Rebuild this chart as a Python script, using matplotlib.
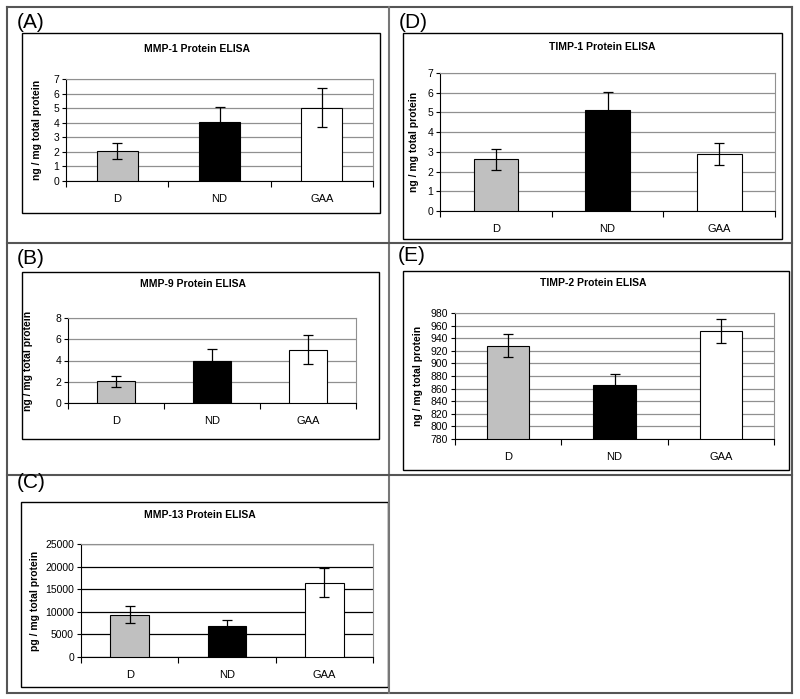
import numpy as np
import matplotlib
matplotlib.use("Agg")
import matplotlib.pyplot as plt
from matplotlib.patches import Rectangle
from matplotlib.lines import Line2D

plt.rcParams['font.family'] = ['Liberation Sans', 'DejaVu Sans']

W, H = 800, 699

groups = ["D", "ND", "GAA"]
bar_colors = ["#c0c0c0", "black", "white"]

mmp1_vals = [2.05, 4.03, 5.03]
mmp1_err = [0.57, 1.05, 1.32]
mmp9_vals = [2.03, 4.0, 5.03]
mmp9_err = [0.5, 1.1, 1.38]
mmp13_vals = [9400, 6800, 16400]
mmp13_err = [1900, 1450, 3200]
timp1_vals = [2.62, 5.1, 2.88]
timp1_err = [0.52, 0.95, 0.57]
timp2_vals = [928, 866, 951]
timp2_err = [18, 17, 19]


def fig_rect(x0, y0, x1, y1):
    return [x0 / W, 1 - y1 / H, (x1 - x0) / W, (y1 - y0) / H]


fig = plt.figure(figsize=(8, 6.99), dpi=100)

# table grid round the panels
def fline(x0, y0, x1, y1, c="#555555", lw=1.5):
    fig.add_artist(Line2D([x0 / W, x1 / W], [1 - y0 / H, 1 - y1 / H],
                          color=c, lw=lw, transform=fig.transFigure))

fline(7, 7, 792, 7)
fline(7, 693, 792, 693)
fline(7, 7, 7, 693)
fline(792, 7, 792, 693)
fline(389, 7, 389, 693, c="#777777")
fline(7, 243, 792, 243)
fline(7, 475, 792, 475)

panels = [
    # label, lab pos, box, plot area, title, title pos, vals, err, ylim, step, ylabel, ylabel x, grid color
    ("(A)", (17, 22), (22, 33, 380, 213), (66, 79, 373, 181), "MMP-1 Protein ELISA", (197, 49),
     mmp1_vals, mmp1_err, (0, 7), 1, "ng / mg total protein", 42, "#909090"),
    ("(D)", (399, 22), (403, 33, 782, 239), (440, 73, 775, 211), "TIMP-1 Protein ELISA", (602, 47),
     timp1_vals, timp1_err, (0, 7), 1, "ng / mg total protein", 419, "#909090"),
    ("(B)", (17, 258), (22, 272, 379, 439), (68, 318, 356, 403), "MMP-9 Protein ELISA", (193, 284),
     mmp9_vals, mmp9_err, (0, 8), 2, "ng / mg total protein", 33, "#909090"),
    ("(E)", (398, 255), (403, 271, 789, 470), (455, 313, 774, 439), "TIMP-2 Protein ELISA", (593, 283),
     timp2_vals, timp2_err, (780, 980), 20, "ng / mg total protein", 423, "#909090"),
    ("(C)", (17, 483), (21, 502, 388, 687), (81, 544, 373, 657), "MMP-13 Protein ELISA", (200, 515),
     mmp13_vals, mmp13_err, (0, 25000), 5000, "pg / mg total protein", 40, "black"),
]

for (lab, lpos, box, area, title, tpos, vals, err, ylim, step, ylab, ylx, gcol) in panels:
    fig.text(lpos[0] / W, 1 - lpos[1] / H, lab, fontsize=15, ha="left", va="center")
    bx0, by0, bx1, by1 = box
    fig.add_artist(Rectangle((bx0 / W, 1 - by1 / H), (bx1 - bx0) / W, (by1 - by0) / H,
                             fill=False, edgecolor="black", lw=1.0, transform=fig.transFigure))
    fig.text(tpos[0] / W, 1 - tpos[1] / H, title, fontsize=7.5, fontweight="bold",
             ha="center", va="center")

    ax = fig.add_axes(fig_rect(*area))
    x = np.arange(len(groups))
    base = ylim[0]
    ax.bar(x, np.array(vals) - base, bottom=base, width=0.4, color=bar_colors,
           edgecolor="black", linewidth=0.8, zorder=3)
    ax.errorbar(x, vals, yerr=err, fmt="none", ecolor="black", elinewidth=0.9,
                capsize=3.5, capthick=0.9, zorder=4)
    ax.set_xlim(-0.5, 2.5)
    ax.set_ylim(*ylim)
    ax.set_yticks(np.arange(ylim[0], ylim[1] + step / 2, step))
    ax.yaxis.grid(True, color=gcol, lw=0.9, zorder=0)
    ax.set_axisbelow(True)
    ax.set_xticks(x)
    ax.set_xticklabels(groups, fontsize=8)
    ax.set_xticks([-0.5, 0.5, 1.5, 2.5], minor=True)
    ax.tick_params(axis="x", which="major", length=0, pad=9)
    ax.tick_params(axis="x", which="minor", length=4, direction="out", width=0.8)
    ax.tick_params(axis="y", length=3, width=0.8, labelsize=7.5, pad=2)
    ax.spines["top"].set_color("#909090")
    ax.spines["right"].set_color("#909090")
    ax.spines["left"].set_linewidth(0.8)
    ax.spines["bottom"].set_linewidth(0.8)
    ax.set_ylabel(ylab, fontsize=7.5, fontweight="bold")
    ax.yaxis.set_label_coords((ylx - area[0]) / (area[2] - area[0]), 0.5)

fig.savefig("out.png", dpi=100)
